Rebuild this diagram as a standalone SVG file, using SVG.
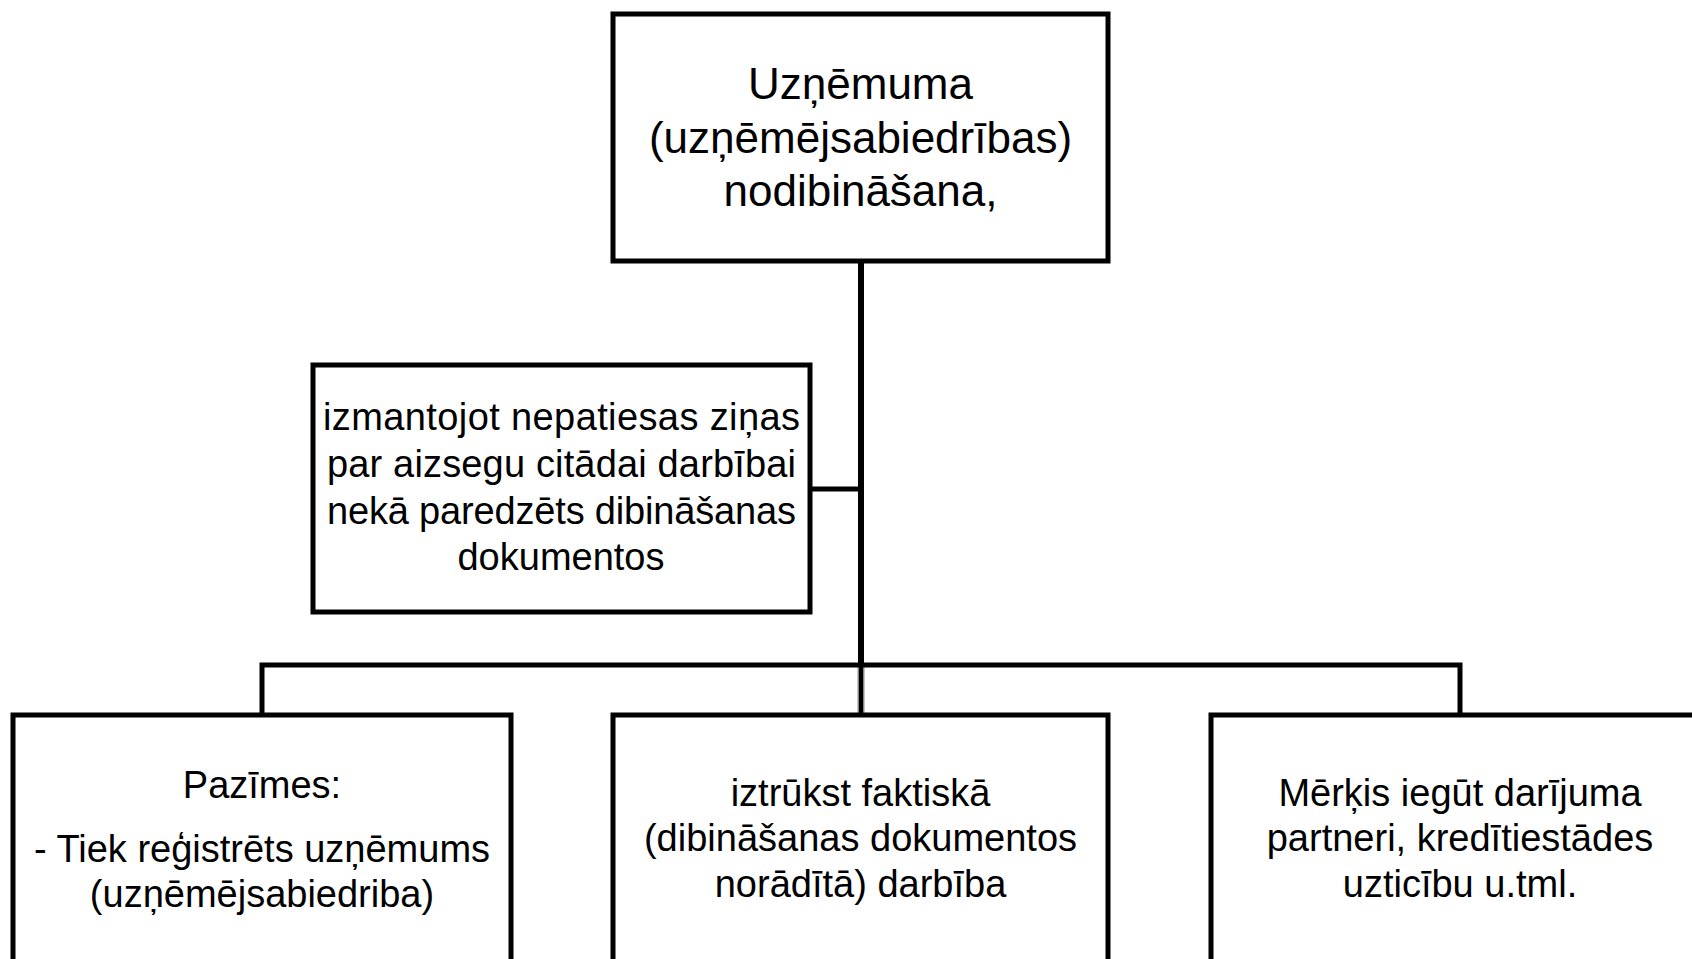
<svg xmlns="http://www.w3.org/2000/svg" width="1692" height="959" viewBox="0 0 1692 959">
<style>
.box{fill:#fff;stroke:#000;stroke-width:5}
.t{font-family:"Liberation Sans",Arial,sans-serif;fill:#000;text-anchor:middle}
.big{font-size:44px}
.mid{font-size:38px}
.con{fill:none;stroke:#000;stroke-width:5;stroke-linejoin:miter;stroke-linecap:butt}
</style>
<rect width="1692" height="959" fill="#fff"/>
<g id="connectors">
<line x1="861" y1="261" x2="861" y2="667" stroke="#000" stroke-width="6"/>
<line x1="861" y1="665" x2="861" y2="714" stroke="#888" stroke-width="7"/>
<line x1="861" y1="665" x2="861" y2="714" stroke="#000" stroke-width="4"/>
<line class="con" x1="810" y1="489" x2="864" y2="489"/>
<polyline class="con" points="262,715 262,665 1460,665 1460,715"/>
</g>
<g id="node-top">
<rect class="box" x="613" y="14" width="495" height="247"/>
<text class="t big" x="860.5" y="99">Uzņēmuma</text>
<text class="t big" x="860.5" y="153">(uzņēmējsabiedrības)</text>
<text class="t big" x="860.5" y="206">nodibināšana,</text>
</g>
<g id="node-middle">
<rect class="box" x="313" y="365" width="497" height="247"/>
<text class="t mid" x="561.5" y="429.5" textLength="477" lengthAdjust="spacing">izmantojot nepatiesas ziņas</text>
<text class="t mid" x="561.5" y="477" textLength="469" lengthAdjust="spacing">par aizsegu citādai darbībai</text>
<text class="t mid" x="561.5" y="524" textLength="469" lengthAdjust="spacing">nekā paredzēts dibināšanas</text>
<text class="t mid" x="561" y="570">dokumentos</text>
</g>
<g id="node-bottom-left">
<rect class="box" x="13" y="715" width="498" height="270"/>
<text class="t mid" x="262" y="798">Pazīmes:</text>
<text class="t mid" x="262" y="862">- Tiek reģistrēts uzņēmums</text>
<text class="t mid" x="262" y="907">(uzņēmējsabiedriba)</text>
</g>
<g id="node-bottom-center">
<rect class="box" x="613" y="715" width="495" height="270"/>
<text class="t mid" x="860.5" y="806">iztrūkst faktiskā</text>
<text class="t mid" x="860.5" y="851">(dibināšanas dokumentos</text>
<text class="t mid" x="860.5" y="897">norādītā) darbība</text>
</g>
<g id="node-bottom-right">
<rect class="box" x="1211" y="715" width="498" height="270"/>
<text class="t mid" x="1460" y="806">Mērķis iegūt darījuma</text>
<text class="t mid" x="1460" y="851">partneri, kredītiestādes</text>
<text class="t mid" x="1460" y="897">uzticību u.tml.</text>
</g>
</svg>
